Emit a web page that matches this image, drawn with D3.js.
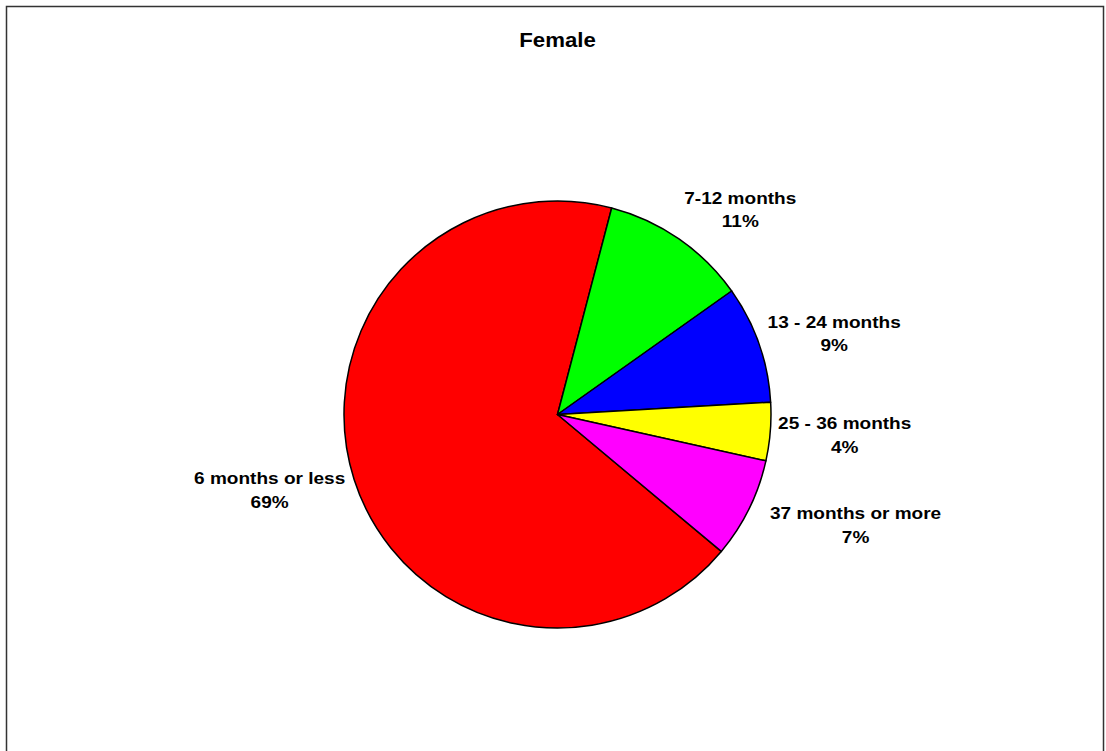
<!DOCTYPE html>
<html>
<head>
<meta charset="utf-8">
<script src="https://cdn.jsdelivr.net/npm/d3@7"></script>
<style>
  html, body { margin: 0; padding: 0; background: #fff; }
  svg { display: block; }
  text { font-family: "Liberation Sans", Arial, sans-serif; font-weight: bold; fill: #000; }
</style>
</head>
<body>
<svg id="chart" width="1106" height="751"></svg>
<script>
// ---- data ----
const title = "Female";
const categories = ["6 months or less", "7-12 months", "13 - 24 months", "25 - 36 months", "37 months or more"];
const values = [68.0, 11.1, 8.9, 4.4, 7.6];
const pctLabels = ["69%", "11%", "9%", "4%", "7%"];
const colors = ["#FF0000", "#00FF00", "#0000FF", "#FFFF00", "#FF00FF"];

// ---- layout ----
const W = 1106, H = 751;
const cx = 557.5, cy = 414.5, R = 213.5;
const firstSliceDeg = 129.9;
const labelGap = 13;
const textScale = 1.12;
const labelFont = 17;
const labelNudge = { "7-12 months": [22, -3], "25 - 36 months": [-5, 0], "37 months or more": [18, 1] };

const svg = d3.select("#chart");

// border
svg.append("rect")
  .attr("x", 6.5).attr("y", 6.5)
  .attr("width", 1097).attr("height", 780)
  .attr("fill", "none").attr("stroke", "#333").attr("stroke-width", 1.5);

// title
svg.append("text")
  .attr("transform", `translate(${cx},47) scale(1.14,1)`)
  .attr("text-anchor", "middle")
  .style("font-size", "19.5px")
  .text(title);

const data = categories.map((c, i) => ({ cat: c, value: values[i], pct: pctLabels[i], color: colors[i] }));

const start = firstSliceDeg * Math.PI / 180;
const pie = d3.pie().value(d => d.value).sort(null)
  .startAngle(start).endAngle(start + 2 * Math.PI);
const arcs = pie(data);
const arc = d3.arc().innerRadius(0).outerRadius(R);

const g = svg.append("g").attr("transform", `translate(${cx},${cy})`);
g.selectAll("path").data(arcs).enter().append("path")
  .attr("d", arc)
  .attr("fill", d => d.data.color)
  .attr("stroke", "#000")
  .attr("stroke-width", 1.5)
  .attr("stroke-linejoin", "round");

// labels
arcs.forEach(a => {
  const mid = (a.startAngle + a.endAngle) / 2;
  const s = Math.sin(mid), c = Math.cos(mid);
  const lg = svg.append("g");
  const t1 = lg.append("text").attr("text-anchor", "middle").style("font-size", labelFont + "px").text(a.data.cat);
  const t2 = lg.append("text").attr("text-anchor", "middle").style("font-size", labelFont + "px").text(a.data.pct);
  const w = Math.max(t1.node().getComputedTextLength(), t2.node().getComputedTextLength()) * textScale;
  const h = 40;
  const px = cx + (R + labelGap) * s;
  const py = cy - (R + labelGap) * c;
  const nud = labelNudge[a.data.cat] || [0, 0];
  const bx = px + s * w / 2 + nud[0];
  const by = py - c * h / 2 + nud[1];
  t1.attr("transform", `translate(${bx},${by - 5}) scale(${textScale},1)`);
  t2.attr("transform", `translate(${bx},${by + 18.5}) scale(${textScale},1)`);
});
</script>
</body>
</html>
